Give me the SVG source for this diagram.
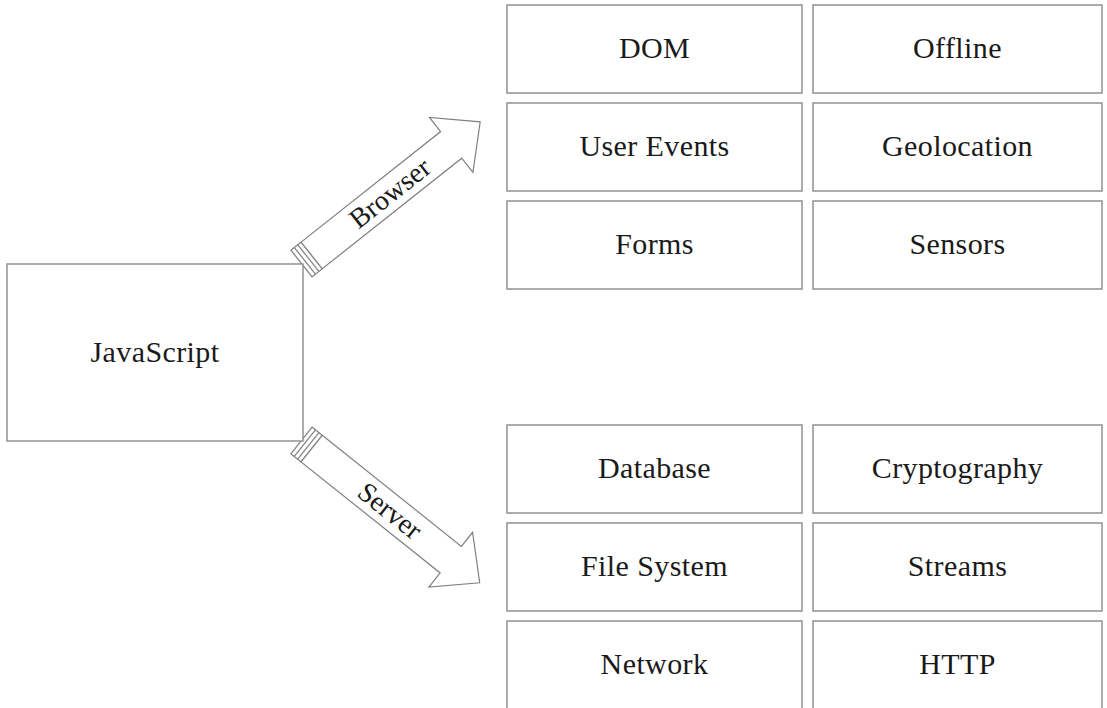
<svg xmlns="http://www.w3.org/2000/svg" width="1107" height="708" viewBox="0 0 1107 708">
<style>
.box{fill:#fff;stroke:#8a8a8a;stroke-width:1.4}
.lbl{font-family:"Liberation Serif","Times New Roman",serif;font-size:30px;letter-spacing:0.4px;fill:#1a1a1a;text-anchor:middle}
.arr{fill:#fff;stroke:#808080;stroke-width:1.2;stroke-linejoin:miter}
.stripe{stroke:#808080;stroke-width:1.2;fill:none}
.albl{font-family:"Liberation Serif","Times New Roman",serif;font-size:28px;fill:#1a1a1a;text-anchor:middle}
</style>
<defs>
<g id="arrowShape">
<rect class="arr" x="0" y="-17" width="13" height="34"/>
<line class="stripe" x1="4.3" y1="-17" x2="4.3" y2="17"/>
<line class="stripe" x1="8.7" y1="-17" x2="8.7" y2="17"/>
<path class="arr" d="M13,-17 L191,-17 L191,-35 L228,0 L191,35 L191,17 L13,17 Z"/>
</g>
</defs>
<rect width="1107" height="708" fill="#fff"/>

<g id="connectors">
<g id="browser-arrow" transform="translate(301.5,263.5) rotate(-38.4)">
<use href="#arrowShape"/>
<text class="albl" x="113" y="9">Browser</text>
</g>
<g id="server-arrow" transform="translate(301.5,440.5) rotate(38.6)">
<use href="#arrowShape"/>
<text class="albl" x="113" y="9">Server</text>
</g>
</g>

<g id="javascript">
<rect class="box" x="7" y="264" width="296" height="177"/>
<text class="lbl" x="155" y="362">JavaScript</text>
</g>

<g id="dom"><rect class="box" x="507" y="5" width="295" height="88"/><text class="lbl" x="654.5" y="58">DOM</text></g>
<g id="offline"><rect class="box" x="813" y="5" width="289" height="88"/><text class="lbl" x="957.5" y="58">Offline</text></g>
<g id="user-events"><rect class="box" x="507" y="103" width="295" height="88"/><text class="lbl" x="654.5" y="156">User Events</text></g>
<g id="geolocation"><rect class="box" x="813" y="103" width="289" height="88"/><text class="lbl" x="957.5" y="156">Geolocation</text></g>
<g id="forms"><rect class="box" x="507" y="201" width="295" height="88"/><text class="lbl" x="654.5" y="254">Forms</text></g>
<g id="sensors"><rect class="box" x="813" y="201" width="289" height="88"/><text class="lbl" x="957.5" y="254">Sensors</text></g>

<g id="database"><rect class="box" x="507" y="425" width="295" height="88"/><text class="lbl" x="654.5" y="478">Database</text></g>
<g id="cryptography"><rect class="box" x="813" y="425" width="289" height="88"/><text class="lbl" x="957.5" y="478">Cryptography</text></g>
<g id="file-system"><rect class="box" x="507" y="523" width="295" height="88"/><text class="lbl" x="654.5" y="576">File System</text></g>
<g id="streams"><rect class="box" x="813" y="523" width="289" height="88"/><text class="lbl" x="957.5" y="576">Streams</text></g>
<g id="network"><rect class="box" x="507" y="621" width="295" height="88"/><text class="lbl" x="654.5" y="674">Network</text></g>
<g id="http"><rect class="box" x="813" y="621" width="289" height="88"/><text class="lbl" x="957.5" y="674">HTTP</text></g>
</svg>
